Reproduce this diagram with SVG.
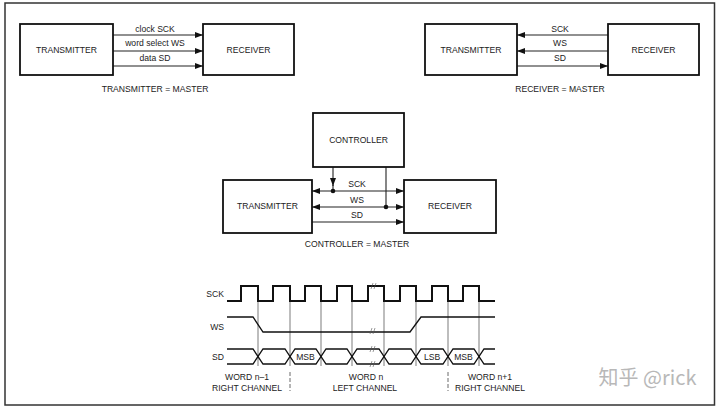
<svg xmlns="http://www.w3.org/2000/svg" width="720" height="409" viewBox="0 0 720 409">
<style>
.t{font-family:"Liberation Sans",Arial,sans-serif;font-size:8.6px;fill:#222;text-anchor:middle}
.r{text-anchor:end}
.box{fill:#fff;stroke:#111;stroke-width:1.8}
.ln{fill:none;stroke:#222;stroke-width:1.1}
.thin{fill:none;stroke:#444;stroke-width:0.7}
.sck{fill:none;stroke:#111;stroke-width:2}
.sig{fill:none;stroke:#111;stroke-width:1.3}
.brk{fill:none;stroke:#555;stroke-width:0.6}
.wm{font-family:"Noto Sans CJK SC","Liberation Sans",sans-serif;font-size:20px;fill:#b8b8b8;text-anchor:middle}
</style>
<defs>
<marker id="ah" viewBox="0 0 8 6" refX="8" refY="3" markerWidth="8" markerHeight="6" markerUnits="userSpaceOnUse" orient="auto-start-reverse">
<path d="M0,0 L8,3 L0,6 Z" fill="#111"/>
</marker>
</defs>
<rect x="5" y="3" width="709.5" height="402" fill="#fff" stroke="#333" stroke-width="1.5"/>

<g id="connectors">
<line class="ln" x1="113" y1="35" x2="203" y2="35" marker-end="url(#ah)"/>
<line class="ln" x1="113" y1="51" x2="203" y2="51" marker-end="url(#ah)"/>
<line class="ln" x1="113" y1="66" x2="203" y2="66" marker-end="url(#ah)"/>
<line class="ln" x1="608" y1="35" x2="517" y2="35" marker-end="url(#ah)"/>
<line class="ln" x1="608" y1="51" x2="517" y2="51" marker-end="url(#ah)"/>
<line class="ln" x1="517" y1="66" x2="608" y2="66" marker-end="url(#ah)"/>
<line class="ln" x1="312" y1="191" x2="404" y2="191" marker-start="url(#ah)" marker-end="url(#ah)"/>
<line class="ln" x1="312" y1="207" x2="404" y2="207" marker-start="url(#ah)" marker-end="url(#ah)"/>
<line class="ln" x1="312" y1="222" x2="404" y2="222" marker-end="url(#ah)"/>
<line class="ln" x1="333" y1="167" x2="333" y2="186" marker-end="url(#ah)"/>
<line class="ln" x1="333" y1="185" x2="333" y2="191"/>
<line class="ln" x1="386" y1="167" x2="386" y2="207"/>
<circle cx="333" cy="191" r="2.3" fill="#111"/>
<circle cx="386" cy="207" r="2.3" fill="#111"/>
<text class="t" x="155" y="31.5">clock SCK</text>
<text class="t" x="155" y="46">word select WS</text>
<text class="t" x="155" y="61">data SD</text>
<text class="t" x="560" y="31.5">SCK</text>
<text class="t" x="560" y="46">WS</text>
<text class="t" x="560" y="61">SD</text>
<text class="t" x="357" y="187">SCK</text>
<text class="t" x="357" y="202.5">WS</text>
<text class="t" x="357" y="218">SD</text>
</g>

<g id="tl-transmitter"><rect class="box" x="20" y="24" width="93" height="51"/><text class="t" x="66.5" y="52.5">TRANSMITTER</text></g>
<g id="tl-receiver"><rect class="box" x="203" y="24" width="91" height="51"/><text class="t" x="248.5" y="52.5">RECEIVER</text></g>
<text class="t" x="155" y="91.5">TRANSMITTER = MASTER</text>

<g id="tr-transmitter"><rect class="box" x="425" y="24" width="92" height="51"/><text class="t" x="471" y="52.5">TRANSMITTER</text></g>
<g id="tr-receiver"><rect class="box" x="608" y="24" width="91" height="51"/><text class="t" x="653.5" y="52.5">RECEIVER</text></g>
<text class="t" x="560" y="91.5">RECEIVER = MASTER</text>

<g id="m-controller"><rect class="box" x="313" y="113" width="91" height="54"/><text class="t" x="358.5" y="143">CONTROLLER</text></g>
<g id="m-transmitter"><rect class="box" x="223" y="180" width="89" height="53"/><text class="t" x="267.5" y="209">TRANSMITTER</text></g>
<g id="m-receiver"><rect class="box" x="404" y="180" width="92" height="53"/><text class="t" x="450" y="209">RECEIVER</text></g>
<text class="t" x="357" y="247">CONTROLLER = MASTER</text>

<g id="timing">
<g class="thin">
<line x1="258" y1="286" x2="258" y2="366"/>
<line x1="290" y1="286" x2="290" y2="366"/>
<line x1="321" y1="286" x2="321" y2="366"/>
<line x1="352" y1="286" x2="352" y2="366"/>
<line x1="384" y1="286" x2="384" y2="366"/>
<line x1="416" y1="286" x2="416" y2="366"/>
<line x1="448" y1="286" x2="448" y2="366"/>
<line x1="479" y1="286" x2="479" y2="366"/>
</g>
<path class="sck" d="M227,301 H241 V286 H258 V301 H273 V286 H290 V301 H305 V286 H321 V301 H337 V286 H352 V301 H368 V286 H384 V301 H400 V286 H416 V301 H432 V286 H448 V301 H463 V286 H479 V301 H495"/>
<path class="sig" d="M227,317 H253 L263,332 H410 L421,317 H495"/>
<path class="sig" d="M227,349 H253 L263,364 H285 L295,349 H316 L326,364 H347 L357,349 H379 L389,364 H411 L421,349 H443 L453,364 H474 L484,349 H495"/>
<path class="sig" d="M227,364 H253 L263,349 H285 L295,364 H316 L326,349 H347 L357,364 H379 L389,349 H411 L421,364 H443 L453,349 H474 L484,364 H495"/>
<g class="brk">
<path d="M371,289 L373,283 M374,289 L376,283"/>
<path d="M370,334 L372,328 M373,334 L375,328"/>
<path d="M370,352 L372,346 M373,352 L375,346"/>
<path d="M370,367 L372,361 M373,367 L375,361"/>
</g>
<text class="t r" x="224" y="297">SCK</text>
<text class="t r" x="224" y="330">WS</text>
<text class="t r" x="224" y="360">SD</text>
<text class="t" x="305.5" y="359.5">MSB</text>
<text class="t" x="432" y="359.5">LSB</text>
<text class="t" x="463.5" y="359.5">MSB</text>
<line x1="290" y1="372" x2="290" y2="391" stroke="#444" stroke-width="0.8" stroke-dasharray="4,2"/>
<line x1="448" y1="372" x2="448" y2="391" stroke="#444" stroke-width="0.8" stroke-dasharray="4,2"/>
<text class="t" x="247" y="380">WORD n–1</text>
<text class="t" x="247" y="390.5">RIGHT CHANNEL</text>
<text class="t" x="366" y="380">WORD n</text>
<text class="t" x="365" y="390.5">LEFT CHANNEL</text>
<text class="t" x="490" y="380">WORD n+1</text>
<text class="t" x="490" y="390.5">RIGHT CHANNEL</text>
</g>
<text class="wm" x="647.5" y="385">知乎 @rick</text>
</svg>
